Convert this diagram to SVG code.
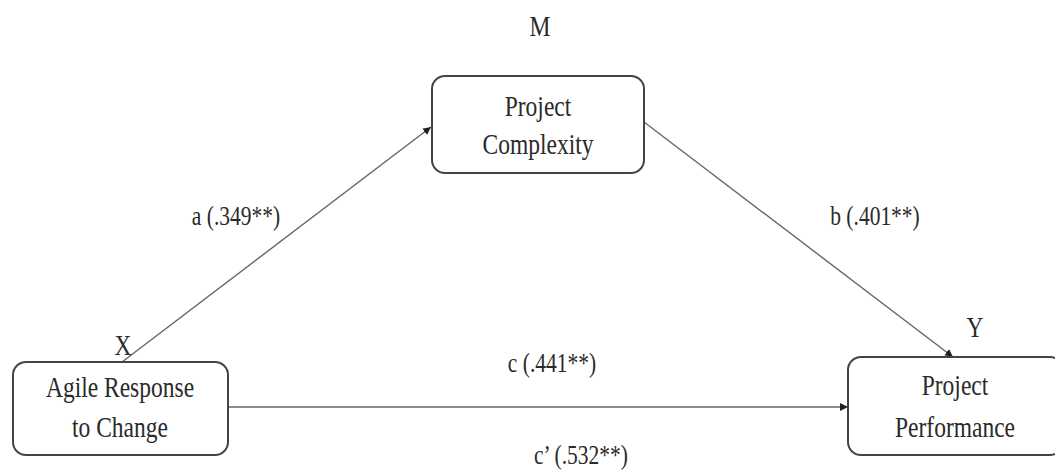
<svg xmlns="http://www.w3.org/2000/svg" width="1055" height="471" viewBox="0 0 1055 471">
<style>
.box{fill:#fff;stroke:#444;stroke-width:2}
.t{font-family:"Liberation Serif","Times New Roman",serif;fill:#2a2a2a;text-anchor:middle}
.bt{font-size:23.5px}
.lt{font-size:21.5px}
.ln{stroke:#666;stroke-width:1.4;fill:none}
</style>
<defs>
<marker id="ah" viewBox="0 0 10 10" refX="10" refY="5" markerWidth="8" markerHeight="8" markerUnits="userSpaceOnUse" orient="auto">
<path d="M0,0 L10,5 L0,10 z" fill="#222"/>
</marker>
</defs>
<rect width="1055" height="471" fill="#fff"/>
<g id="connectors">
<line class="ln" x1="122" y1="362" x2="431" y2="127" marker-end="url(#ah)"/>
<line class="ln" x1="644" y1="122" x2="953" y2="357" marker-end="url(#ah)"/>
<line class="ln" x1="228" y1="407" x2="848" y2="407" marker-end="url(#ah)"/>
<text class="t lt" transform="translate(236,225) scale(1,1.28)">a (.349**)</text>
<text class="t lt" transform="translate(875,225) scale(1,1.28)">b (.401**)</text>
<text class="t lt" transform="translate(552,372) scale(1,1.28)">c (.441**)</text>
<text class="t lt" transform="translate(581,464) scale(1,1.28)">c’ (.532**)</text>
</g>
<g id="node-M">
<rect class="box" x="432" y="76" width="212" height="97" rx="13"/>
<text class="t bt" transform="translate(540,36) scale(1,1.28)">M</text>
<text class="t bt" transform="translate(538,116) scale(1,1.28)">Project</text>
<text class="t bt" transform="translate(538,154) scale(1,1.28)">Complexity</text>
</g>
<g id="node-X">
<rect class="box" x="13" y="362" width="215" height="93" rx="13"/>
<text class="t bt" transform="translate(123,355) scale(1,1.28)">X</text>
<text class="t bt" transform="translate(120,397) scale(1,1.28)">Agile Response</text>
<text class="t bt" transform="translate(120,437) scale(1,1.28)">to Change</text>
</g>
<g id="node-Y">
<rect class="box" x="848" y="357" width="215" height="98" rx="13"/>
<text class="t bt" transform="translate(975,337) scale(1,1.28)">Y</text>
<text class="t bt" transform="translate(955,395) scale(1,1.28)">Project</text>
<text class="t bt" transform="translate(955,437) scale(1,1.28)">Performance</text>
</g>
</svg>
